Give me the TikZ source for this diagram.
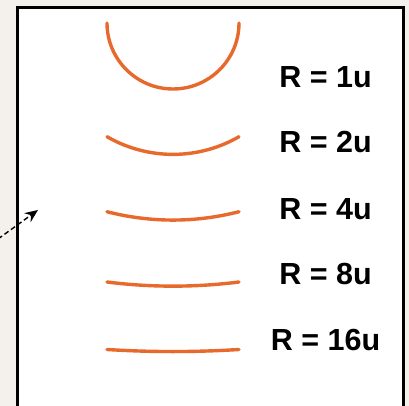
\documentclass[tikz,border=0pt]{standalone}
\usepackage{fontspec}
\setmainfont{Liberation Sans}
\usetikzlibrary{arrows.meta}
\definecolor{paper}{HTML}{F4F1EC}
\definecolor{arcorange}{HTML}{E8692C}
\tikzset{
  curve/.style={draw=arcorange, line width=3.4pt, line cap=round},
  rlabel/.style={font=\bfseries\fontsize{30.5}{32}\selectfont, inner sep=0pt, anchor=center},
  frame/.style={draw=black, fill=white, line width=3pt},
  pointer/.style={draw=black, line width=1.4pt, dash pattern=on 5pt off 3pt, -{Stealth[length=13pt,width=11pt]}}
}
\begin{document}
\begin{tikzpicture}[x=1pt,y=1pt]
\useasboundingbox (0,0) rectangle (409,406);
\clip (0,0) rectangle (409,406);
\fill[paper] (0,0) rectangle (409,406);
\path[frame] (17.5,-10) rectangle (403.5,398);
% arcs
\draw[curve] (107,383) arc[start angle=180, end angle=360, radius=66];
\draw[curve] (107,269.3) arc[start angle=240, end angle=300, radius=132];
\draw[curve] (107,194.3) arc[start angle=255.5225, end angle=284.4775, radius=264];
\draw[curve] (107,124) arc[start angle=262.8192, end angle=277.1808, radius=528];
\draw[curve] (107,56.5) arc[start angle=266.4173, end angle=273.5827, radius=1056];
% labels
\node[rlabel] (l1) at (325.5,329) {R = 1u};
\node[rlabel] (l2) at (325.5,263.5) {R = 2u};
\node[rlabel] (l4) at (325.5,197) {R = 4u};
\node[rlabel] (l8) at (325.5,132) {R = 8u};
\node[rlabel] (l16) at (325.5,66) {R = 16u};
% arrow
\coordinate (a0) at (-2,167);
\coordinate (a1) at (38,196);
\draw[pointer] (a0) -- (a1);
\end{tikzpicture}
\end{document}
